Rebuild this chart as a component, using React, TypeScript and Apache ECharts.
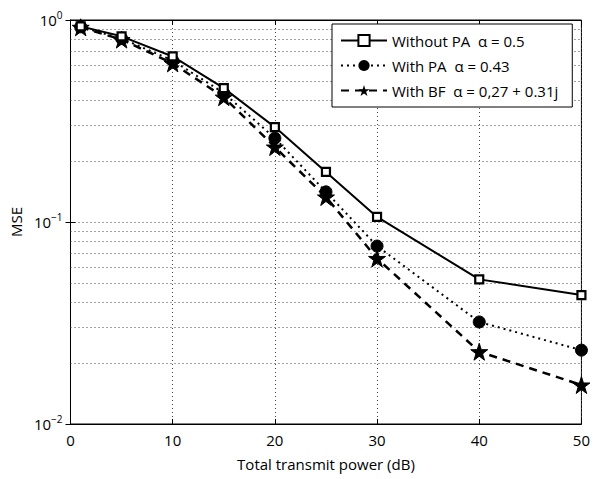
import React, { useEffect, useRef } from "react";
import * as echarts from "echarts";

const xValues = [1, 5, 10, 15, 20, 25, 30, 40, 50];
const withoutPA = [0.93, 0.83, 0.66, 0.46, 0.295, 0.177, 0.106, 0.052, 0.0435];
const withPA = [0.925, 0.81, 0.63, 0.435, 0.26, 0.141, 0.076, 0.032, 0.0232];
const withBF = [0.92, 0.8, 0.61, 0.415, 0.235, 0.133, 0.066, 0.0228, 0.0156];
const seriesNames = ["Without PA  α = 0.5", "With PA  α = 0.43", "With BF  α = 0,27 + 0.31j"];
const minorGrid = [0.02, 0.03, 0.04, 0.05, 0.06, 0.07, 0.08, 0.09, 0.2, 0.3, 0.4, 0.5, 0.6, 0.7, 0.8, 0.9];

const STAR =
  "path://M50,0 L61.8,35.5 L100,35.5 L69.1,57.4 L80.9,93 L50,71 L19.1,93 L30.9,57.4 L0,35.5 L38.2,35.5 Z";

const FONT = "Open Sans";

export default function App() {
  const ref = useRef<HTMLDivElement>(null);
  useEffect(() => {
    if (!ref.current) return;
    const chart = echarts.init(ref.current, null, { renderer: "svg" });
    const pair = (arr: number[]) => xValues.map((x, i) => [x, arr[i]]);
    const gridDot = { color: "#444", type: [1, 3] as any, width: 1 };
    chart.setOption({
      animation: false,
      backgroundColor: "#fff",
      textStyle: { fontFamily: FONT, color: "#000" },
      grid: { left: 70, right: 10, top: 20, bottom: 55, show: true, borderColor: "#000", borderWidth: 1, backgroundColor: "transparent" },
      legend: {
        orient: "vertical",
        left: 332,
        top: 24,
        backgroundColor: "#fff",
        borderColor: "#000",
        borderWidth: 1,
        borderRadius: 0,
        padding: [9, 14, 9, 8],
        itemGap: 10,
        itemWidth: 46,
        itemHeight: 14,
        textStyle: { fontFamily: FONT, fontSize: 15, color: "#000" },
        data: seriesNames,
      },
      xAxis: [
        {
          type: "value",
          min: 0,
          max: 50,
          interval: 10,
          name: "Total transmit power (dB)",
          nameLocation: "middle",
          nameGap: 32,
          nameTextStyle: { fontFamily: FONT, fontSize: 15, color: "#000" },
          axisLine: { show: true, lineStyle: { color: "#000", width: 1 } },
          axisTick: { show: true, inside: true, length: 5, lineStyle: { color: "#000" } },
          axisLabel: { fontFamily: FONT, fontSize: 15, color: "#000", margin: 8 },
          splitLine: { show: true, lineStyle: gridDot },
        },
        {
          type: "value",
          position: "top",
          min: 0,
          max: 50,
          interval: 10,
          axisLine: { show: true, lineStyle: { color: "#000" } },
          axisTick: { show: true, inside: true, length: 5, lineStyle: { color: "#000" } },
          axisLabel: { show: false },
          splitLine: { show: false },
        },
      ],
      yAxis: [
        {
          type: "log",
          logBase: 10,
          min: 0.01,
          max: 1,
          name: "MSE",
          nameLocation: "middle",
          nameGap: 44,
          nameRotate: 90,
          nameTextStyle: { fontFamily: FONT, fontSize: 15, color: "#000" },
          axisLine: { show: true, lineStyle: { color: "#000" } },
          axisTick: { show: true, inside: true, length: 5, lineStyle: { color: "#000" } },
          axisLabel: {
            margin: 8,
            formatter: (v: number) => {
              const e = Math.round(Math.log10(v));
              return `{b|10}{s|${e < 0 ? "−" + -e : e}}`;
            },
            rich: {
              b: { fontFamily: FONT, fontSize: 15, color: "#000" },
              s: { fontFamily: FONT, fontSize: 10, color: "#000", padding: [0, 0, 11, 0] },
            },
          },
          splitLine: { show: true, lineStyle: gridDot },
        },
        {
          type: "log",
          logBase: 10,
          min: 0.01,
          max: 1,
          position: "right",
          axisLine: { show: true, lineStyle: { color: "#000" } },
          axisTick: { show: true, inside: true, length: 5, lineStyle: { color: "#000" } },
          axisLabel: { show: false },
          splitLine: { show: false },
        },
      ],
      series: [
        {
          name: seriesNames[0],
          type: "line",
          data: pair(withoutPA),
          symbol: "rect",
          symbolSize: 8,
          showAllSymbol: true,
          lineStyle: { color: "#000", width: 2, type: "solid" },
          itemStyle: { color: "#fff", borderColor: "#000", borderWidth: 2.2 },
          z: 5,
          markLine: {
            silent: true,
            symbol: "none",
            label: { show: false },
            lineStyle: gridDot,
            z: 1,
            data: minorGrid.map((v) => ({ yAxis: v })),
          },
        },
        {
          name: seriesNames[1],
          type: "line",
          data: pair(withPA),
          symbol: "circle",
          symbolSize: 12,
          lineStyle: { color: "#000", width: 2, type: [2, 4] },
          itemStyle: { color: "#000", borderColor: "#000" },
          z: 4,
        },
        {
          name: seriesNames[2],
          type: "line",
          data: pair(withBF),
          symbol: STAR,
          symbolSize: 17,
          lineStyle: { color: "#000", width: 2.5, type: [8, 6] },
          itemStyle: { color: "#000", borderColor: "#000" },
          z: 3,
        },
      ],
    });
    return () => chart.dispose();
  }, []);
  return <div ref={ref} style={{ width: 593, height: 479, position: "absolute", left: 0, top: 0 }} />;
}
